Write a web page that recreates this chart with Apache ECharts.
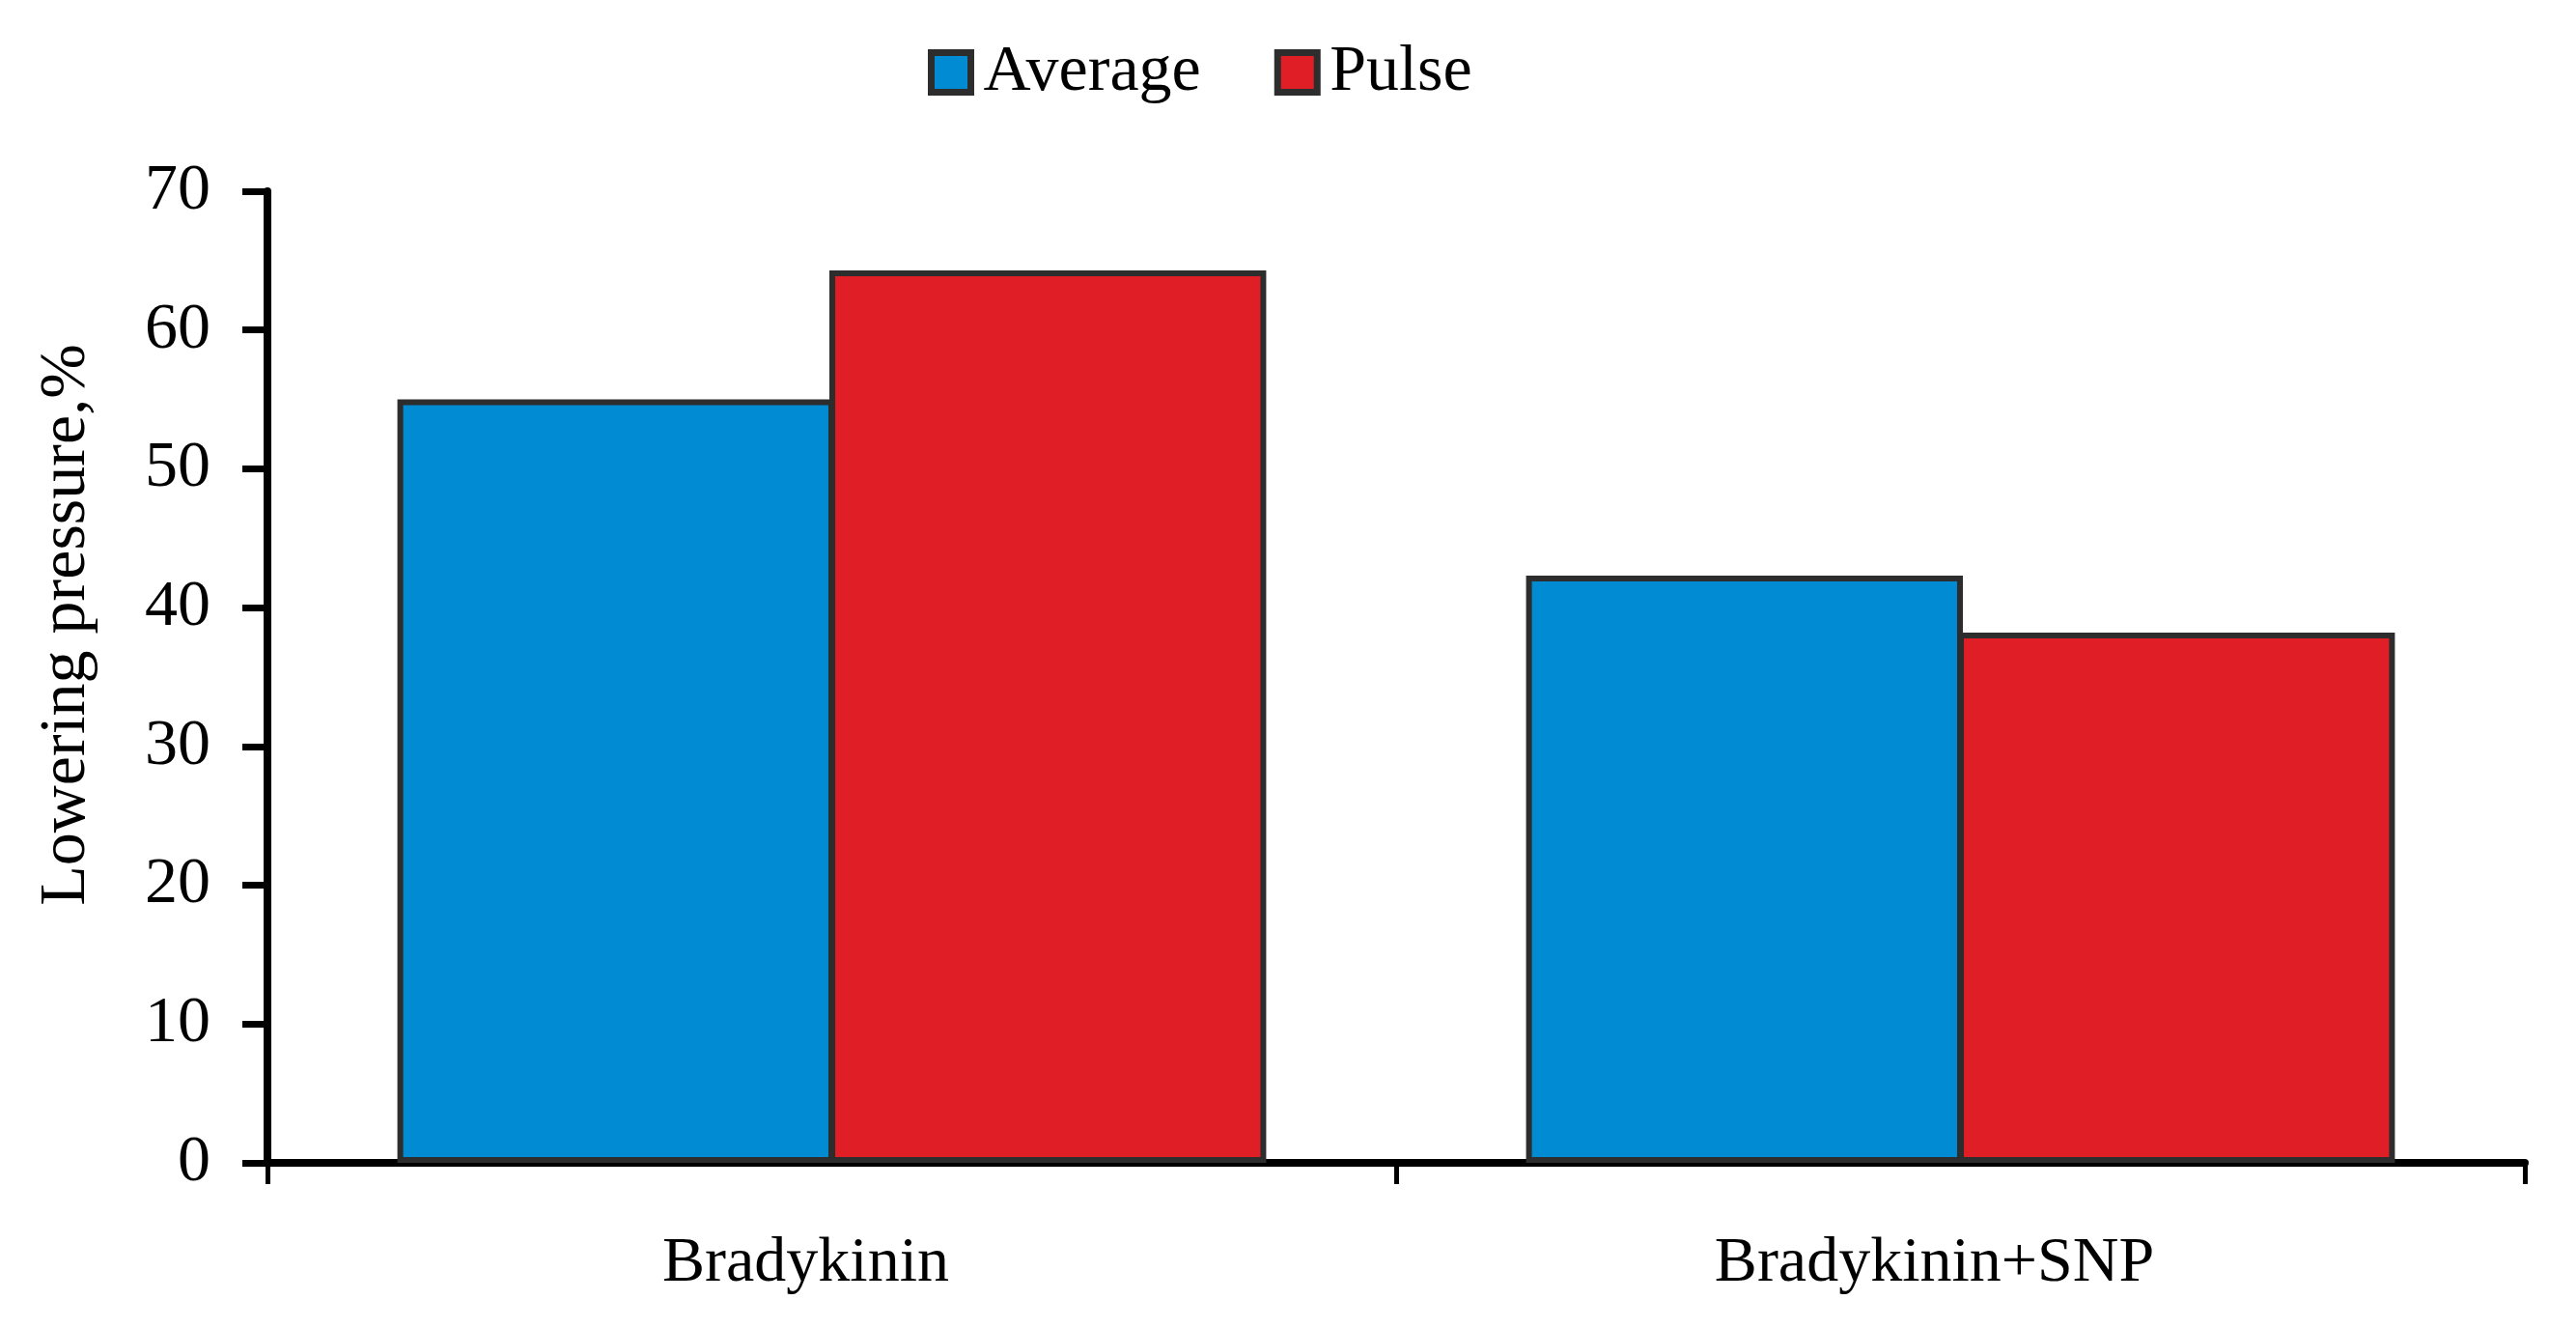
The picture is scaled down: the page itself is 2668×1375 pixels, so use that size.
<!DOCTYPE html>
<html>
<head>
<meta charset="utf-8">
<script src="https://cdn.jsdelivr.net/npm/echarts@6/dist/echarts.min.js"></script>
<style>html,body{margin:0;padding:0;background:#fff}#c{width:2668px;height:1375px}</style>
</head>
<body>
<div id="c"></div>
<script>
const categories = ['Bradykinin', 'Bradykinin+SNP'];
const seriesNames = ['Average', 'Pulse'];
const averageValues = [55, 42.3];
const pulseValues = [64.3, 38.2];
const yTicks = [0, 10, 20, 30, 40, 50, 60, 70];

const FONT = '"Liberation Serif", "DejaVu Serif", serif';
const chart = echarts.init(document.getElementById('c'));
chart.setOption({
  animation: false,
  backgroundColor: '#fff',
  textStyle: { fontFamily: FONT, color: '#000' },
  legend: {
    left: 956, top: 36,
    icon: 'rect',
    itemWidth: 41, itemHeight: 41, itemGap: 76,
    textStyle: { fontFamily: FONT, fontSize: 68, color: '#000', padding: [0,0,0,8] },
    itemStyle: { borderColor: '#2d2d2d', borderWidth: 7 },
    data: seriesNames
  },
  grid: { left: 277, right: 53, top: 198, bottom: 171, containLabel: false },
  xAxis: {
    type: 'category',
    data: categories,
    axisLine: { lineStyle: { color: '#000', width: 8 } },
    axisTick: { show: true, length: 22, lineStyle: { color: '#000', width: 5 } },
    axisLabel: { fontFamily: FONT, fontSize: 66, color: '#000', margin: 72, padding: [0, 54, 0, 0] }
  },
  yAxis: {
    type: 'value',
    min: yTicks[0], max: yTicks[yTicks.length - 1], interval: 10,
    name: 'Lowering pressure,%',
    nameLocation: 'middle',
    nameGap: 174,
    nameRotate: 90,
    nameTextStyle: { fontFamily: FONT, fontSize: 68, color: '#000', padding: [0, 0, 0, 108] },
    axisLine: { show: true, lineStyle: { color: '#000', width: 8 } },
    axisTick: { show: true, length: 26, lineStyle: { color: '#000', width: 7 } },
    splitLine: { show: false },
    axisLabel: { fontFamily: FONT, fontSize: 68, color: '#000', margin: 59 }
  },
  series: [
    {
      name: seriesNames[0], type: 'bar', data: averageValues,
      barWidth: '38.7%', barGap: '-1.1%',
      itemStyle: { color: '#008bd3', borderColor: '#2d2d2d', borderWidth: 6 }
    },
    {
      name: seriesNames[1], type: 'bar', data: pulseValues,
      barWidth: '38.7%', barGap: '-1.1%',
      itemStyle: { color: '#e01e26', borderColor: '#2d2d2d', borderWidth: 6 }
    }
  ]
});
</script>
</body>
</html>
